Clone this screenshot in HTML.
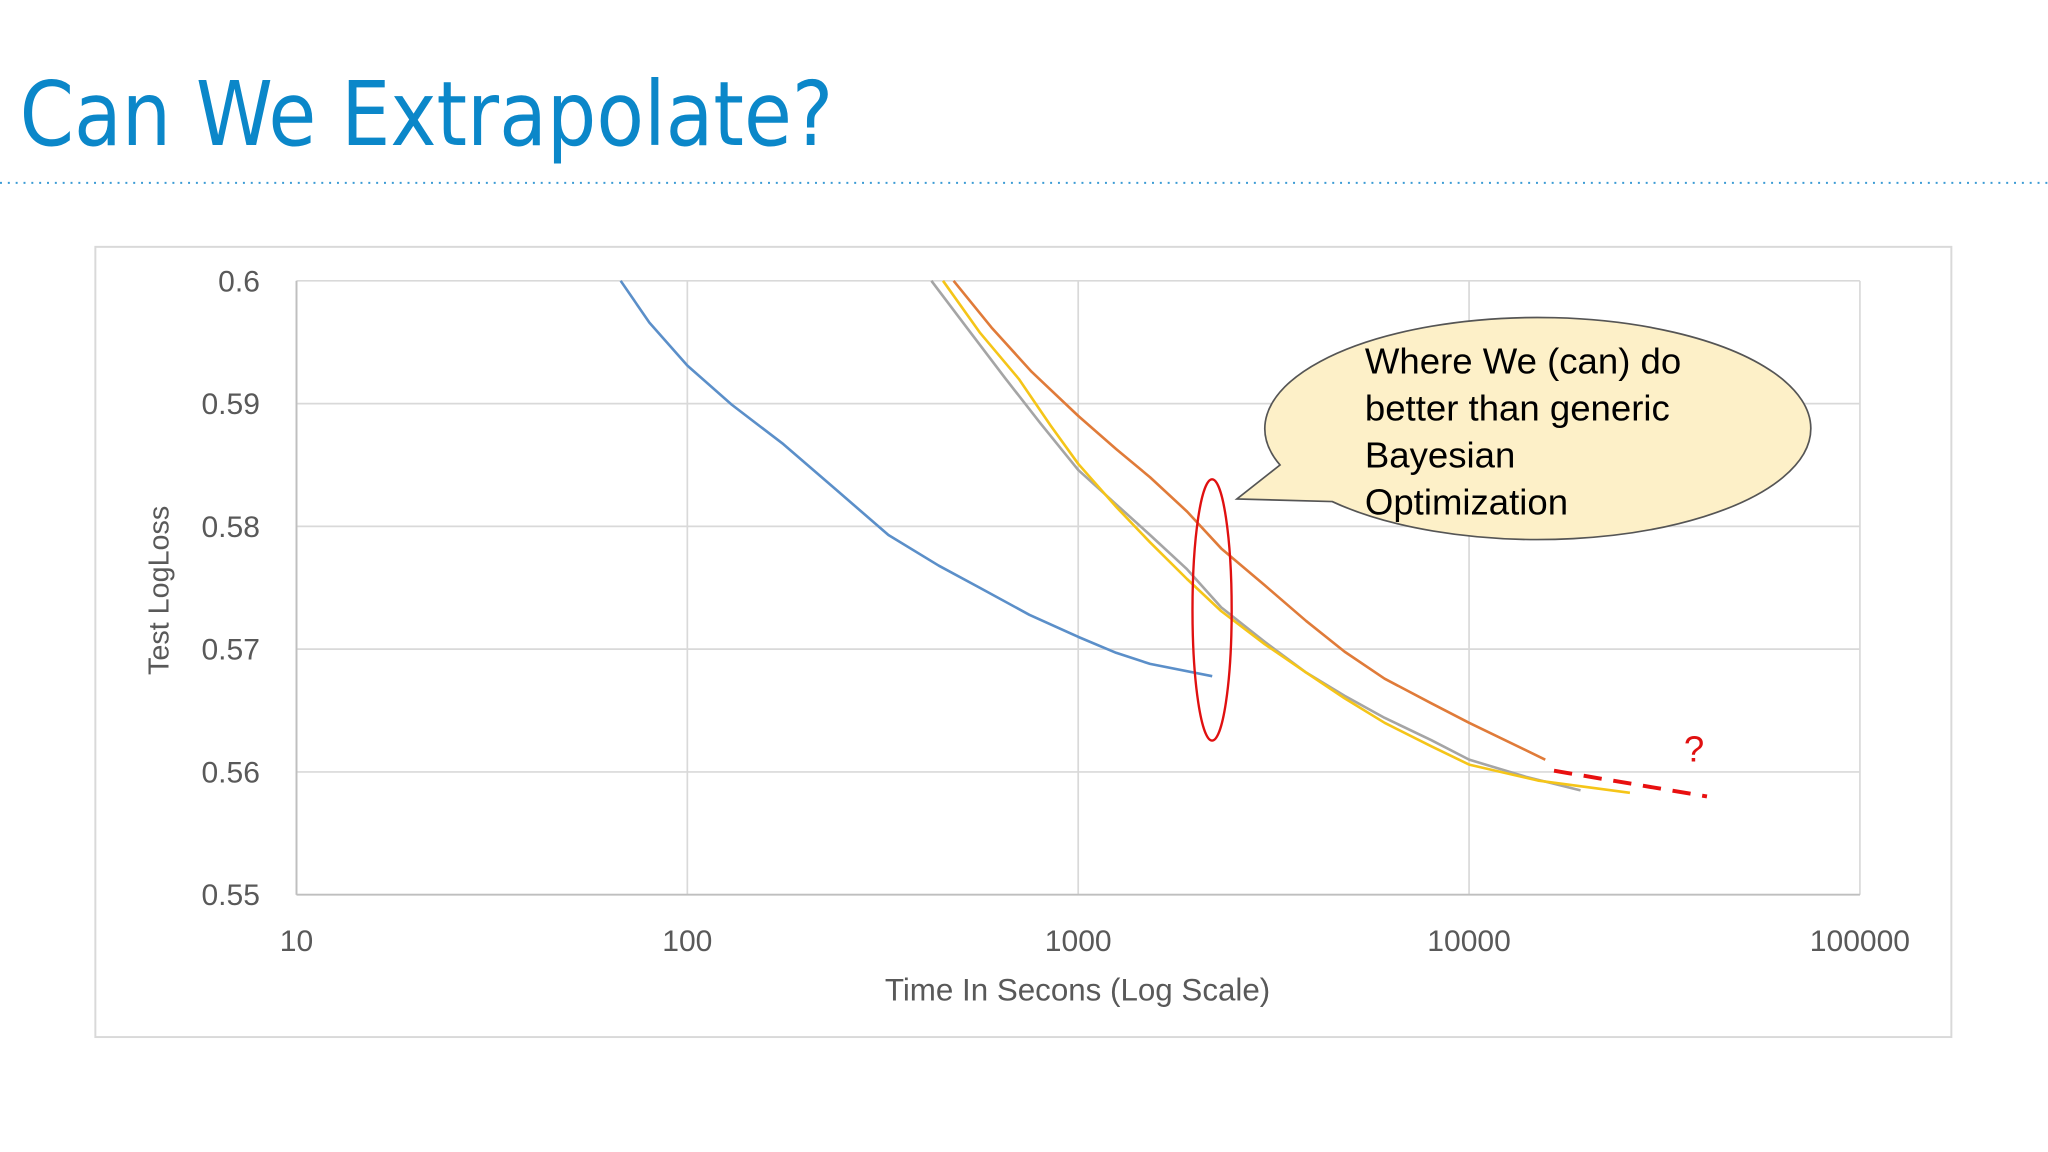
<!DOCTYPE html>
<html><head><meta charset="utf-8"><style>
html,body{margin:0;padding:0;background:#fff}
svg{display:block}
text{font-family:"Liberation Sans","DejaVu Sans",sans-serif}
</style></head><body>
<svg id="chart" width="2048" height="1152" viewBox="0 0 1568 882" preserveAspectRatio="none" xmlns="http://www.w3.org/2000/svg">
<rect width="1568" height="882" fill="#fff"/>
<text x="15" y="111" font-size="68" fill="#0b87c9" style="font-family:'DejaVu Sans','Liberation Sans',sans-serif" textLength="623" lengthAdjust="spacingAndGlyphs">Can We Extrapolate?</text>
<line x1="0" y1="140" x2="1568" y2="140" stroke="#3b9bd4" stroke-width="1.5" stroke-dasharray="1.5 4.5"/>
<rect x="73" y="189" width="1421" height="605" fill="#fff" stroke="#d9d9d9" stroke-width="1.5"/>
<g id="grid"></g>
<g id="series"></g>
<g id="labels"></g>
<text x="825" y="766" font-size="24" fill="#595959" text-anchor="middle">Time In Secons (Log Scale)</text>
<text transform="translate(129,452) rotate(-90)" font-size="22" fill="#595959" text-anchor="middle">Test LogLoss</text>
<ellipse cx="928" cy="467" rx="15" ry="100" fill="none" stroke="#e01010" stroke-width="1.8"/>
<text x="1297" y="583" font-size="28" fill="#e01010" text-anchor="middle">?</text>
<g>
<path d="M980,356 L947,382 L1020,384 A209,85 0 1 0 980,356 Z" fill="#fdf0c8" stroke="#555" stroke-width="1.3"/>
<text font-size="28" fill="#000">
<tspan x="1045" y="286">Where We (can) do</tspan>
<tspan x="1045" y="322">better than generic</tspan>
<tspan x="1045" y="358">Bayesian</tspan>
<tspan x="1045" y="394">Optimization</tspan>
</text>
</g>
</svg>
<script>
const yTicks=[0.6,0.59,0.58,0.57,0.56,0.55];
const yTickLabels=["0.6","0.59","0.58","0.57","0.56","0.55"];
const xTicks=[10,100,1000,10000,100000];
const xTickLabels=["10","100","1000","10000","100000"];
const blueT=[67.5,80,100,130,176,240,327,440,560,750,1000,1250,1527,2203];
const blueY=[0.6,0.5966,0.5931,0.5899,0.5867,0.583,0.5793,0.5768,0.575,0.5728,0.571,0.5697,0.5688,0.5678];
const orangeT=[480,600,760,1000,1250,1527,1900,2323,3000,3828,4800,6080,8000,10000,15670];
const orangeY=[0.6,0.5962,0.5926,0.589,0.5863,0.584,0.5812,0.5782,0.5752,0.5723,0.5698,0.5676,0.5656,0.564,0.561];
const grayT=[421,530,653,800,1000,1250,1527,1900,2323,3000,3828,4800,6080,8000,10000,14000,19280];
const grayY=[0.6,0.5958,0.592,0.5884,0.5846,0.5818,0.5793,0.5765,0.5734,0.5706,0.5681,0.5662,0.5644,0.5626,0.561,0.5596,0.5585];
const yellowT=[451,560,705,850,1000,1250,1527,1900,2323,3000,3828,4800,6080,8000,10000,15000,25800];
const yellowY=[0.6,0.5958,0.592,0.5882,0.5851,0.5816,0.5787,0.5757,0.5731,0.5704,0.5681,0.566,0.564,0.5621,0.5606,0.5593,0.5583];
const extrapT=[16500,40600];
const extrapY=[0.5601,0.558];

const L=227,R=1424,T=215,B=685;
const xs=t=>L+(Math.log10(t)-1)/4*(R-L);
const ys=v=>T+(0.6-v)/0.05*(B-T);
const NS="http://www.w3.org/2000/svg";
function mk(tag,attrs,parent){const e=document.createElementNS(NS,tag);for(const k in attrs)e.setAttribute(k,attrs[k]);parent.appendChild(e);return e;}
const grid=document.getElementById('grid'),lab=document.getElementById('labels'),ser=document.getElementById('series');
yTicks.forEach((v,i)=>{
 const l=mk('line',{x1:L,x2:R,y1:ys(v),y2:ys(v),stroke:'#d9d9d9','stroke-width':1.3},grid);
 
 
 const t=mk('text',{x:199,y:ys(v)+8,'font-size':23,fill:'#595959','text-anchor':'end'},lab);
 t.textContent=yTickLabels[i];
 
 
});
xTicks.forEach((v,i)=>{
 const l=mk('line',{x1:xs(v),x2:xs(v),y1:T,y2:B,stroke:'#d9d9d9','stroke-width':1.3},grid);
 
 
 const t=mk('text',{x:xs(v),y:728,'font-size':23,fill:'#595959','text-anchor':'middle'},lab);
 t.textContent=xTickLabels[i];
 
 
});
mk('line',{x1:L,x2:L,y1:T,y2:B,stroke:'#bfbfbf','stroke-width':1.5},grid);
mk('line',{x1:L,x2:R,y1:B,y2:B,stroke:'#bfbfbf','stroke-width':1.5},grid);
function line(T_,Y_,color,name,extra){
 const d=T_.map((t,i)=>(i?'L':'M')+xs(t).toFixed(1)+','+ys(Y_[i]).toFixed(1)).join(' ');
 const p=mk('path',Object.assign({d:d,fill:'none',stroke:color,'stroke-width':2,'stroke-linejoin':'round'},extra||{}),ser);
 
 
}
line(blueT,blueY,'#5b8fc9','blue-series');
line(orangeT,orangeY,'#e07b39','orange-series');
line(grayT,grayY,'#a5a5a5','gray-series');
line(yellowT,yellowY,'#f5c518','yellow-series');
line(extrapT,extrapY,'#e81010','extrapolation-line',{'stroke-width':3,'stroke-dasharray':'14 9'});
</script>
</body></html>
